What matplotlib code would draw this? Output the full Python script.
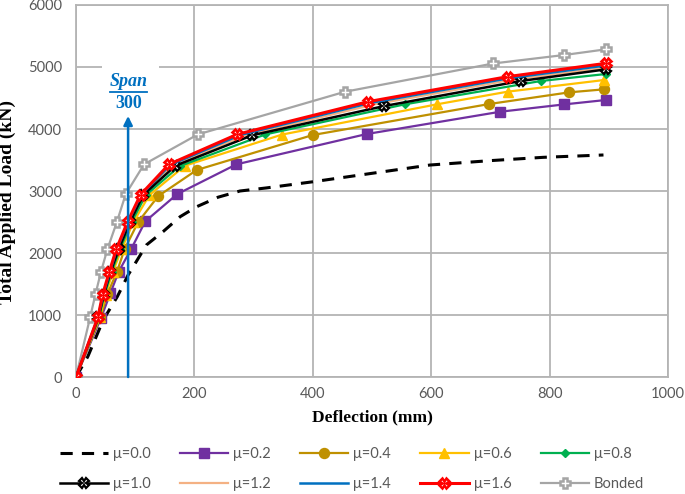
import matplotlib
matplotlib.use("Agg")
import matplotlib.pyplot as plt
from matplotlib.patches import Rectangle

# ---------------- data ----------------
x_mu00 = [0, 20, 46, 70, 88, 119, 147, 176, 204, 240, 277, 322, 401, 480, 598, 700, 789, 891]
y_mu00 = [0, 330, 920, 1300, 1645, 2130, 2344, 2586, 2747, 2900, 3000, 3050, 3150, 3258, 3419, 3490, 3543, 3581]

x_mu02 = [0, 42, 58, 72, 93, 117, 171, 271, 491, 717, 825, 895]
y_mu02 = [0, 946, 1350, 1698, 2060, 2510, 2950, 3430, 3919, 4279, 4397, 4468]

x_mu04 = [0, 41, 53, 69, 82, 105, 139, 204, 400, 698, 833, 892]
y_mu04 = [0, 963, 1340, 1690, 2060, 2500, 2919, 3339, 3903, 4403, 4591, 4640]

x_mu06 = [0, 40, 50, 62, 77, 97, 124, 184, 348, 609, 729, 892]
y_mu06 = [0, 963, 1330, 1690, 2060, 2500, 2935, 3408, 3910, 4397, 4602, 4790]

x_mu08 = [0, 39, 48, 60, 74, 94, 118, 175, 320, 555, 785, 895]
y_mu08 = [0, 963, 1330, 1690, 2060, 2500, 2935, 3400, 3913, 4397, 4774, 4887]

x_mu10 = [0, 38, 47, 58, 72, 91, 114, 168, 298, 521, 751, 895]
y_mu10 = [0, 963, 1330, 1690, 2060, 2500, 2940, 3408, 3900, 4371, 4774, 4962]

x_mu12 = [0, 38, 46, 57, 70, 89, 112, 162, 285, 505, 740, 895]
y_mu12 = [0, 963, 1330, 1690, 2060, 2500, 2935, 3410, 3895, 4400, 4800, 4990]

x_mu14 = [0, 37, 46, 57, 69, 88, 110, 159, 278, 497, 733, 895]
y_mu14 = [0, 963, 1330, 1690, 2060, 2500, 2938, 3420, 3905, 4420, 4822, 5025]

x_mu16 = [0, 37, 45, 56, 68, 87, 109, 157, 272, 493, 729, 895]
y_mu16 = [0, 963, 1330, 1690, 2060, 2500, 2940, 3430, 3913, 4440, 4844, 5059]

x_bond = [0, 24, 33, 42, 53, 69, 84, 115, 206, 454, 705, 825, 895]
y_bond = [0, 968, 1340, 1690, 2060, 2500, 2950, 3430, 3913, 4600, 5057, 5194, 5285]

labels = ["μ=0.0", "μ=0.2", "μ=0.4", "μ=0.6", "μ=0.8",
          "μ=1.0", "μ=1.2", "μ=1.4", "μ=1.6", "Bonded"]

span_300 = 88  # Span/300 deflection limit (mm)
x_ticks = [0, 200, 400, 600, 800, 1000]
y_ticks = [0, 1000, 2000, 3000, 4000, 5000, 6000]

# ---------------- figure ----------------
plt.rcParams['font.family'] = ['Lato', 'DejaVu Sans']
fig = plt.figure(figsize=(6.85, 4.94), dpi=100)
ax = fig.add_axes([76/685, 1-377/494, (668-76)/685, (377-5)/494])

grid_c = '#B4B4B4'
ax.set_xlim(0, 1000)
ax.set_ylim(0, 6000)
ax.set_xticks(x_ticks)
ax.set_yticks(y_ticks)
ax.grid(True, color=grid_c, linewidth=1.3, zorder=0)
ax.set_axisbelow(True)
for s in ax.spines.values():
    s.set_color(grid_c)
    s.set_linewidth(1.3)
ax.tick_params(length=0, labelsize=10.5, labelcolor='#595959')
ax.tick_params(axis='y', pad=10)
ax.tick_params(axis='x', pad=7)

# white box behind annotation
ax.add_patch(Rectangle((44, 4280), 97, 850, facecolor='white', edgecolor='none', zorder=1))

h = {}
h['μ=0.0'], = ax.plot(x_mu00, y_mu00, color='black', lw=2.2, ls=(0, (4, 3)), zorder=3)
h['μ=0.2'], = ax.plot(x_mu02, y_mu02, color='#7030A0', lw=1.6, marker='s', ms=6.8, zorder=4)
h['μ=0.4'], = ax.plot(x_mu04, y_mu04, color='#BF9000', lw=1.6, marker='o', ms=7.2, zorder=4)
h['μ=0.6'], = ax.plot(x_mu06, y_mu06, color='#FFC000', lw=1.6, marker='^', ms=7.5, zorder=4)
h['μ=0.8'], = ax.plot(x_mu08, y_mu08, color='#00B050', lw=1.6, marker='D', ms=4, zorder=4)
h['μ=1.0'], = ax.plot(x_mu10, y_mu10, color='black', lw=1.8, marker='X', ms=6.5,
                      mfc='white', mec='black', mew=1.6, zorder=5)
h['μ=1.2'], = ax.plot(x_mu12, y_mu12, color='#F4B183', lw=1.6, zorder=4)
h['μ=1.4'], = ax.plot(x_mu14, y_mu14, color='#0070C0', lw=1.8, zorder=5)
h['μ=1.6'], = ax.plot(x_mu16, y_mu16, color='#FF0000', lw=2.2, marker='X', ms=6.5,
                      mfc='white', mec='#FF0000', mew=1.8, zorder=6)
h['Bonded'], = ax.plot(x_bond, y_bond, color='#A5A5A5', lw=1.6, marker='P', ms=7,
                       mfc='white', mec='#A5A5A5', mew=1.8, zorder=4)

# Span/300 arrow and label
ax.annotate('', xy=(span_300, 4210), xytext=(span_300, 0),
            arrowprops=dict(arrowstyle='-|>', color='#0070C0', lw=1.8,
                            mutation_scale=13, shrinkA=0, shrinkB=0), zorder=7)
serif = ['Liberation Serif', 'DejaVu Serif']
ax.text(span_300 + 1, 4760, 'Span', color='#0070C0', fontsize=13, fontweight='bold',
        fontstyle='italic', family=serif, ha='center', va='center', zorder=8)
ax.plot([span_300 - 30, span_300 + 32], [4592, 4592], color='#0070C0', lw=1.3, zorder=8)
ax.text(span_300 + 1, 4415, '300', color='#0070C0', fontsize=13, fontweight='bold',
        family=serif, ha='center', va='center', zorder=8)

ax.set_xlabel('Deflection (mm)', fontsize=12.5, fontweight='bold', family=serif, labelpad=6)
ax.set_ylabel('Total Applied Load (kN)', fontsize=14, fontweight='bold', family=serif)
ax.yaxis.set_label_coords(-0.101, 0.47)

order = ["μ=0.0", "μ=1.0", "μ=0.2", "μ=1.2", "μ=0.4", "μ=1.4",
         "μ=0.6", "μ=1.6", "μ=0.8", "Bonded"]
leg = fig.legend([h[k] for k in order], order, ncol=5, loc='center',
                 bbox_to_anchor=(352/685, 1-469/494), frameon=False,
                 fontsize=10.5, handlelength=3.3, handletextpad=0.35,
                 columnspacing=2.0, labelspacing=1.05, borderpad=0.2)
for t in leg.get_texts():
    t.set_color('#595959')

fig.savefig('out.png', dpi=100)
